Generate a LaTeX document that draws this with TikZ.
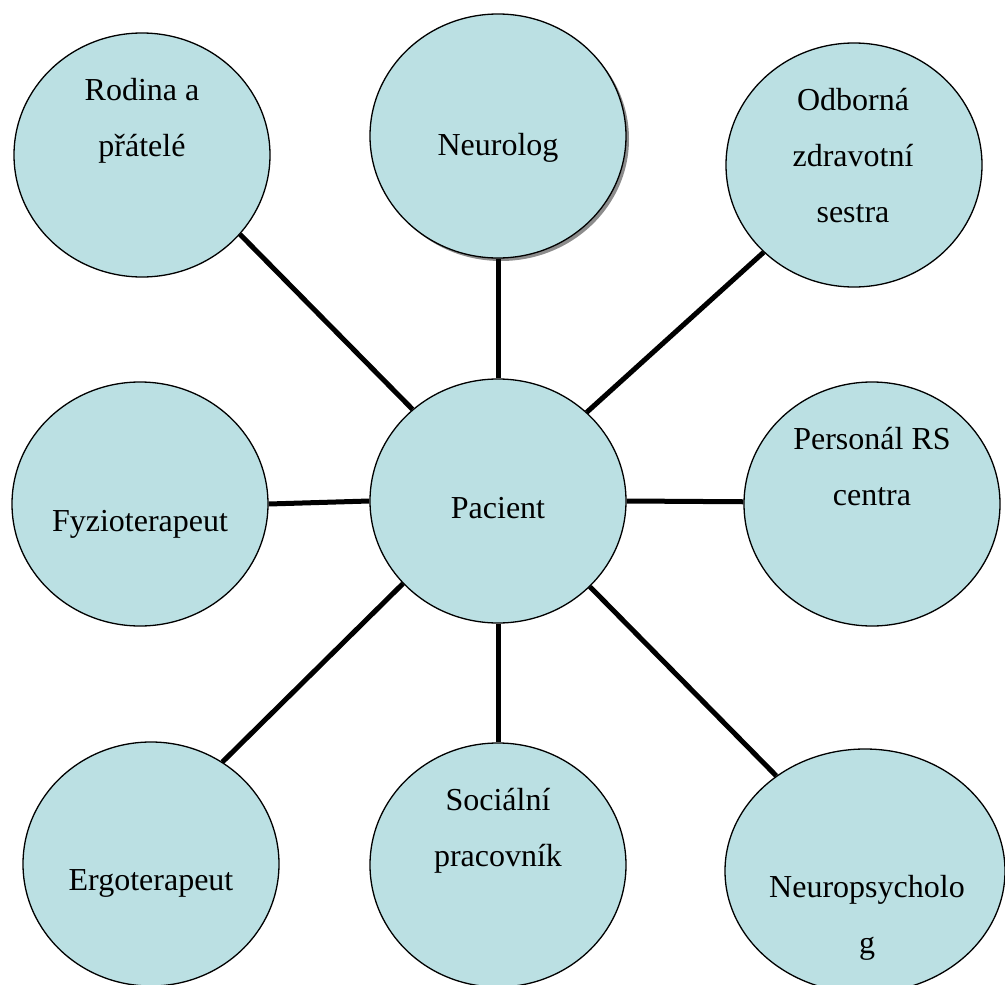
\documentclass[tikz,border=0pt]{standalone}
\usepackage{fontspec}
\setmainfont{Liberation Serif}
\usetikzlibrary{shapes.geometric,shadows}
\definecolor{bubble}{RGB}{187,224,227}
\newcommand{\mlines}[1]{\vtop{\baselineskip=56pt\halign{\hfil##\hfil\cr#1\crcr}}}
\begin{document}
\begin{tikzpicture}[x=1pt,y=-1pt,
  bub/.style={ellipse, draw=black, line width=1.3pt, fill=bubble,
    minimum width=256pt, minimum height=244pt, inner sep=0pt},
  lbl/.style={anchor=base, inner sep=0pt, font=\fontsize{32}{56}\selectfont},
  link/.style={line width=5pt, draw=black}]
\useasboundingbox (0,0) rectangle (1005,985);
\clip (0,0) rectangle (1005,985);

\node[bub] (rod) at (142,155) {};
\node[bub, drop shadow={shadow xshift=3pt, shadow yshift=-3pt, fill=black!45, opacity=1}] (neu) at (498,136) {};
\node[bub] (odb) at (854,165) {};
\node[bub] (pers) at (872,504) {};
\node[bub] (pac) at (498,501) {};
\node[bub] (fyz) at (140,504) {};
\node[bub] (erg) at (151,864) {};
\node[bub] (soc) at (498,865) {};
\node[bub, minimum width=280pt] (nps) at (865,871) {};

\draw[link] (pac.133.4) -- (rod.-39.5);
\draw[link] (pac.90) -- (neu.270);
\draw[link] (pac.45) -- (odb.224.4);
\draw[link] (pac.0) -- (pers.179);
\draw[link] (pac.180) -- (fyz.0);
\draw[link] (pac.221.2) -- (erg.55.2);
\draw[link] (pac.270) -- (soc.90);
\draw[link] (pac.-43.1) -- (nps.133.8);

\node[lbl] (trod) at (142,100) {\mlines{Rodina a\cr přátelé}};
\node[lbl] (tneu) at (498,155) {Neurolog};
\node[lbl] (todb) at (853,110) {\mlines{Odborná\cr zdravotní\cr sestra}};
\node[lbl] (tpers) at (872,449) {\mlines{Personál RS\cr centra}};
\node[lbl] (tpac) at (498,518) {Pacient};
\node[lbl] (tfyz) at (140,531) {Fyzioterapeut};
\node[lbl] (terg) at (151,890) {Ergoterapeut};
\node[lbl] (tsoc) at (498,810) {\mlines{Sociální\cr pracovník}};
\node[lbl] (tnps) at (867,897) {\mlines{Neuropsycholo\cr g}};
\end{tikzpicture}
\end{document}
